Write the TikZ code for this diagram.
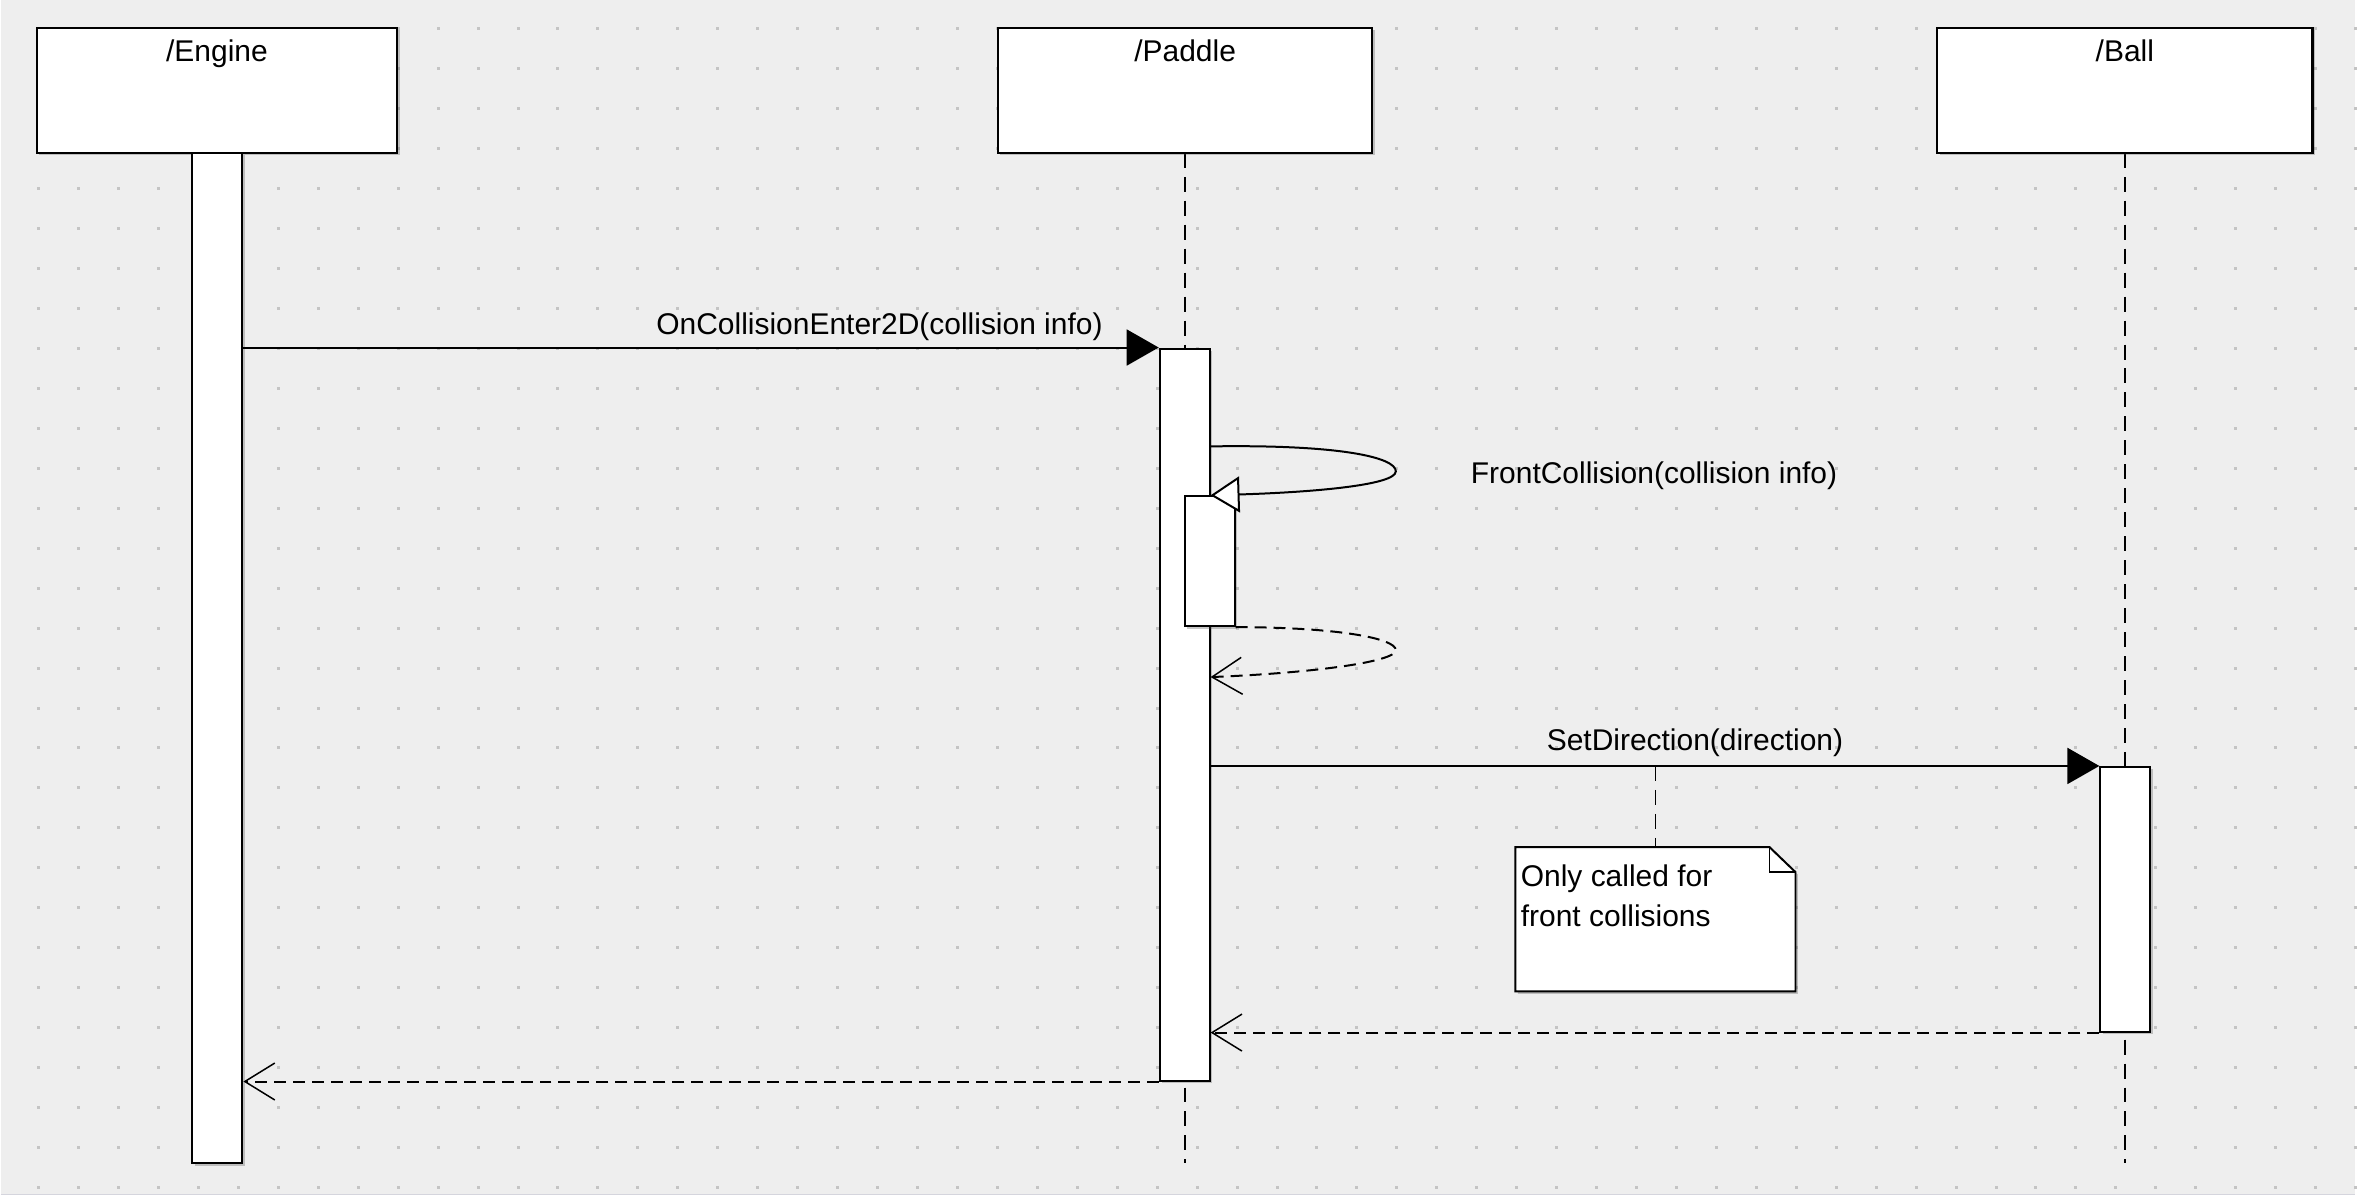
\documentclass[tikz,border=0pt]{standalone}
\usepackage{fontspec}
\setmainfont{Liberation Sans}
\usetikzlibrary{arrows.meta,positioning,calc,shadows}
\definecolor{canvasbg}{HTML}{EEEEEE}
\definecolor{griddot}{HTML}{C4C4C4}

\begin{document}
\begin{tikzpicture}[x=1pt, y=-1pt,
    every node/.style={font=\fontsize{30}{40}\selectfont},
    boxshadow/.style={drop shadow={shadow xshift=2.5pt, shadow yshift=-2.5pt, opacity=.3, fill=black!70}},
    obj/.style={draw, line width=2.2pt, fill=white, minimum height=125pt, inner sep=0pt, boxshadow},
    actbar/.style={draw, line width=2pt, fill=white, minimum width=50pt, inner sep=0pt, boxshadow},
    lifeline/.style={line width=1.8pt, dash pattern=on 15pt off 9pt},
    call/.style={line width=2pt, -{Triangle[length=32pt, width=36pt]}},
    selfcall/.style={line width=2pt, -{Triangle[open, length=29pt, width=36pt, fill=white]}},
    reply/.style={line width=2pt, dash pattern=on 12pt off 7pt, -{Straight Barb[length=30pt, width=37pt, line width=1.5pt]}},
    msglabel/.style={inner sep=0pt, anchor=base}]
            % canvas with dot grid
            \fill[canvasbg] (0,0) rectangle (2357,1197);
            \foreach \i in {0,...,58}
                \foreach \j in {0,...,29}
                    \fill[griddot] (38+40*\i-1.5, 29+40*\j-1.5) rectangle ++(3,3);
            \draw[blue!10!gray!30, line width=1.5pt] (0,1196) -- (2357,1196);
            % lifelines
            \draw[lifeline] (1185.5,153) -- (1185.5,1165);
            \draw[lifeline] (2127,153) -- (2127,1165);
            \node[obj, minimum width=361pt] (Engine) at (216.5,90.5) {};
            \node[msglabel] at (216.5,62) {/Engine};
            \node[obj, minimum width=375pt] (Paddle) at (1186,90.5) {};
            \node[msglabel] at (1186,62) {/Paddle};
            \node[obj, minimum width=376pt] (Ball) at (2127,90.5) {};
            \node[msglabel] at (2127,62) {/Ball};
            % activations
            \node[actbar, minimum height=1012pt] (ebar) at (217,659) {};
            \node[actbar, minimum height=733pt] (pact) at (1185.5,715.5) {};
            \node[actbar, minimum height=130pt] (nact) at (1210.5,562) {};
            \node[actbar, minimum height=265pt] (bact) at (2127.5,900.5) {};
            % messages
            \draw[call] (ebar.east |- pact.north) -- (pact.north west)
                node[msglabel, pos=.695, yshift=13pt] {OnCollisionEnter2D(collision info)};
            \coordinate (turnA) at (1397,472);
            \coordinate (turnB) at (1397,651);
            \coordinate (selfout) at ($(pact.north east)+(0,99)$);
            \coordinate (selfback) at ($(nact.south -| pact.east)+(0,50)$);
            \draw[selfcall] (selfout) .. controls +(130,-2) and +(0,-14) .. (turnA)
                .. controls +(0,14) and +(100,-3) .. (pact.east |- nact.north);
            \node[msglabel, anchor=base west] (fclabel) at (1472,484) {FrontCollision(collision info)};
            \draw[reply] (nact.south east) .. controls +(100,0) and +(0,-12) .. (turnB)
                .. controls +(0,12) and +(100,-4) .. (selfback);
            \draw[call] (pact.east |- bact.north) -- (bact.north west)
                node[msglabel, pos=.545, yshift=15pt] {SetDirection(direction)};
            \draw[reply] (bact.south west) -- (bact.south west -| pact.east);
            \draw[reply] (pact.south west) -- (pact.south west -| ebar.east);
            % note
            \node[minimum width=280pt, minimum height=144pt, inner sep=0pt] (notebox) at (1657,920.5) {};
            \draw[lifeline] (notebox.north |- bact.north) -- (notebox.north);
            \draw[line width=2pt, fill=white, boxshadow] (notebox.north west) -- ($(notebox.north east)+(-26,0)$)
                -- ($(notebox.north east)+(0,25)$) -- (notebox.south east) -- (notebox.south west) -- cycle;
            \draw[line width=1.8pt] ($(notebox.north east)+(-26,0)$) -- ($(notebox.north east)+(-26,25)$)
                -- ($(notebox.north east)+(0,25)$);
            \node[inner sep=0pt, anchor=north west, align=left] (notetext) at (1522,866) {Only called for\\front collisions};
\end{tikzpicture}
\end{document}
